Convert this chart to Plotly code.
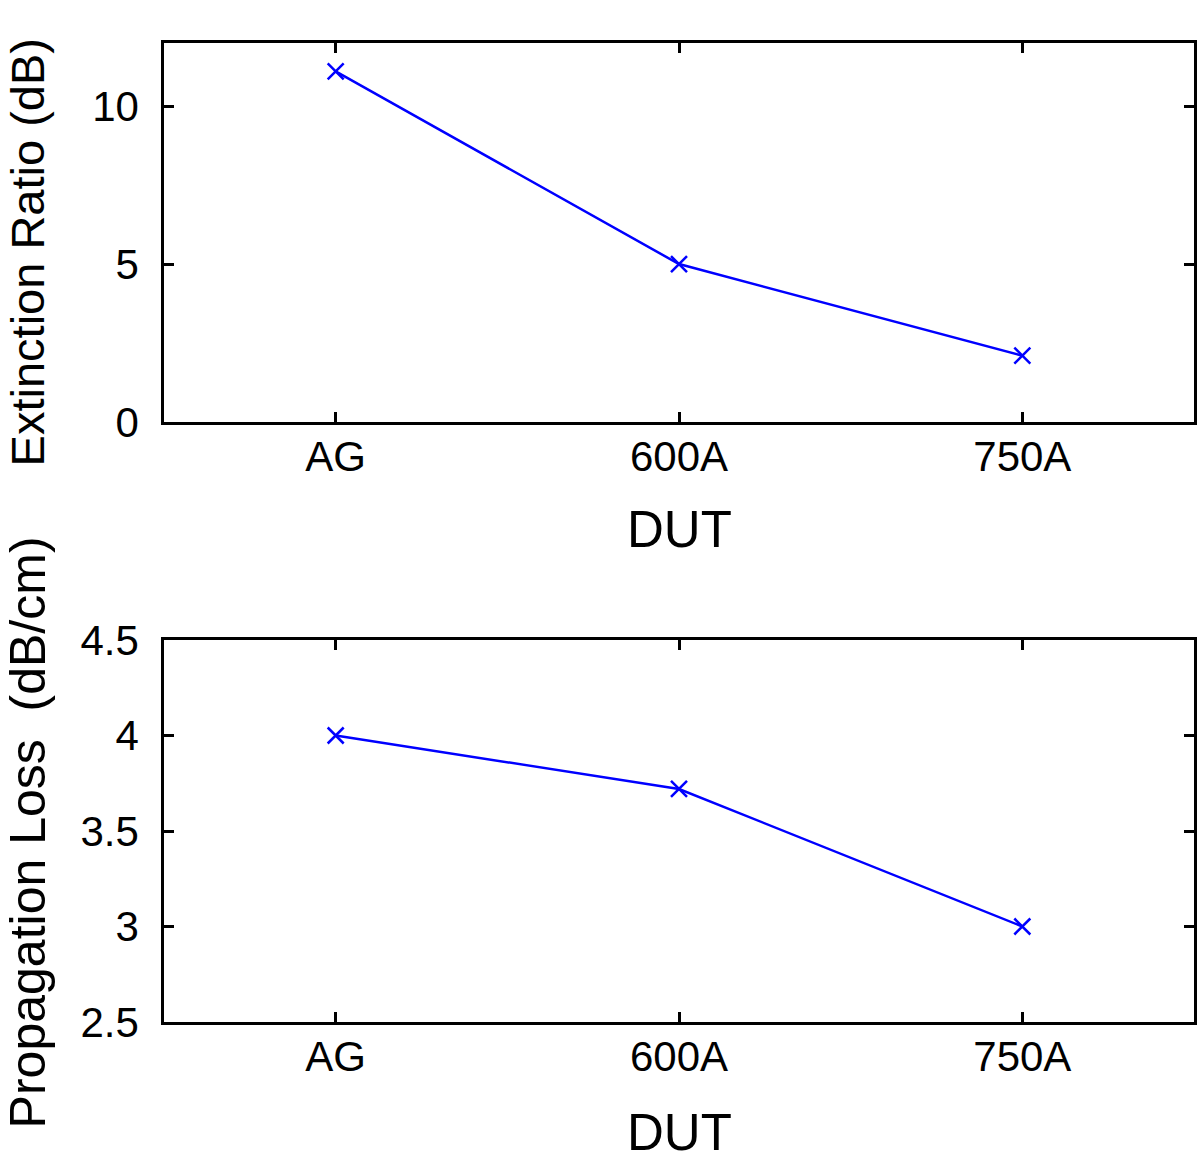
import plotly.graph_objects as go

duts = ["AG", "600A", "750A"]
extinction_ratio = [11.1, 5.0, 2.1]
propagation_loss = [4.0, 3.72, 3.0]

W, H = 1200, 1164
L, R, T, B = 164, 3, 43, 142
PW, PH = W - L - R, H - T - B

def py(p):  # pixel y -> paper y
    return (H - B - p) / PH

def px(p):
    return (p - L) / PW

fig = go.Figure()
common = dict(mode="lines+markers",
              line=dict(color="#0000ff", width=2.5),
              marker=dict(symbol="x-thin", size=16, line=dict(color="#0000ff", width=2.5)),
              showlegend=False)
fig.add_trace(go.Scatter(x=duts, y=extinction_ratio, xaxis="x", yaxis="y", **common))
fig.add_trace(go.Scatter(x=duts, y=propagation_loss, xaxis="x2", yaxis="y2", **common))

axstyle = dict(showline=True, linecolor="black", linewidth=2.5, mirror="ticks",
               ticks="inside", ticklen=10, tickwidth=2.5, tickcolor="black",
               showgrid=False, zeroline=False,
               tickfont=dict(family="Liberation Sans, Arial", size=42, color="black"))

fig.update_layout(
    width=W, height=H,
    margin=dict(l=L, r=R, t=T, b=B),
    plot_bgcolor="white", paper_bgcolor="white",
    xaxis=dict(domain=[0, 1], anchor="y", type="category", range=[-0.5, 2.5],
               ticklabelstandoff=-4, **axstyle),
    yaxis=dict(domain=[py(422), 1], anchor="x", range=[0, 12], tickvals=[0, 5, 10],
               ticklabelstandoff=14, **axstyle),
    xaxis2=dict(domain=[0, 1], anchor="y2", type="category", range=[-0.5, 2.5],
                ticklabelstandoff=-4, **axstyle),
    yaxis2=dict(domain=[0, py(640)], anchor="x2", range=[2.5, 4.5],
                tickvals=[2.5, 3, 3.5, 4, 4.5], ticktext=["2.5", "3", "3.5", "4", "4.5"],
                ticklabelstandoff=14, **axstyle),
)

tfont = dict(family="Liberation Sans, Arial", size=50, color="black")
ann = [
    dict(text="DUT", x=0.5, y=py(529), xref="paper", yref="paper",
         xanchor="center", yanchor="middle", showarrow=False, font=dict(tfont, size=51)),
    dict(text="DUT", x=0.5, y=py(1132), xref="paper", yref="paper",
         xanchor="center", yanchor="middle", showarrow=False, font=dict(tfont, size=51)),
    dict(text="Extinction Ratio (dB)", x=px(28), y=py(252), xref="paper", yref="paper",
         xanchor="center", yanchor="middle", textangle=-90, showarrow=False, font=dict(tfont, size=47)),
    dict(text="Propagation Loss  (dB/cm)", x=px(28), y=py(832), xref="paper", yref="paper",
         xanchor="center", yanchor="middle", textangle=-90, showarrow=False, font=tfont),
]
fig.update_layout(annotations=ann)

fig.write_html("out.html", config={"displayModeBar": False},
               post_script="document.body.style.margin='0';document.body.style.overflow='hidden';")
